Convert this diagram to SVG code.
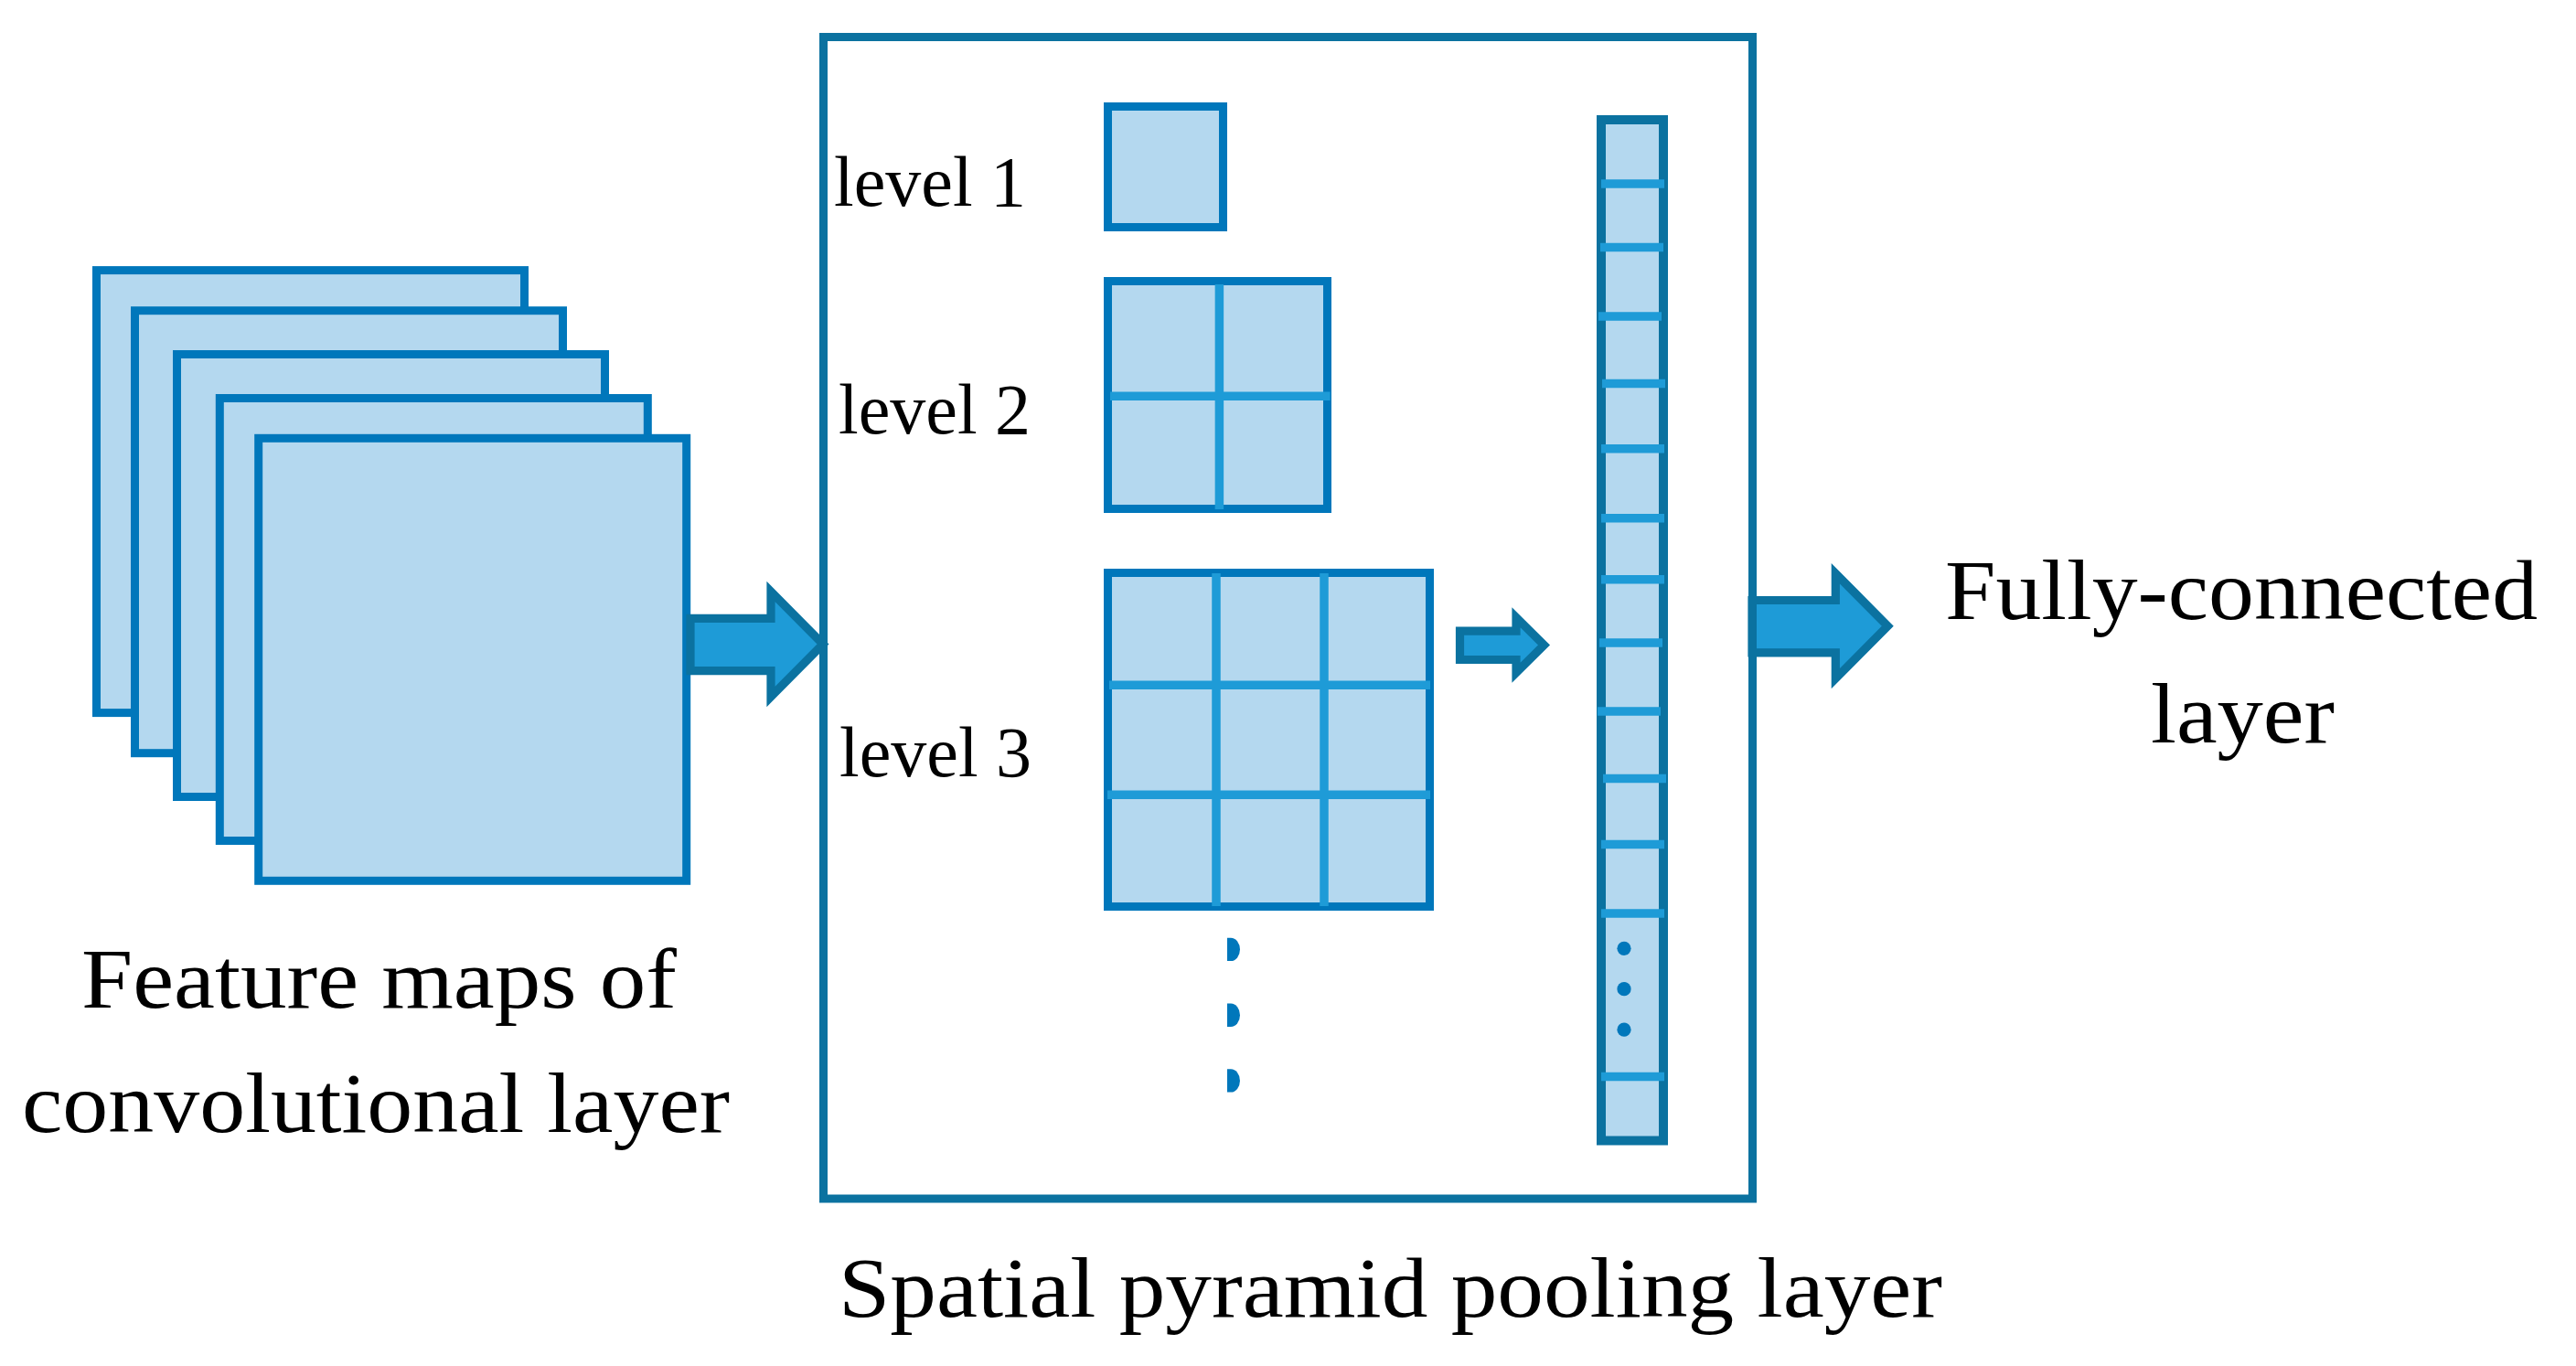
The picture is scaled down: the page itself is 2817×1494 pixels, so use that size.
<svg xmlns="http://www.w3.org/2000/svg" width="2817" height="1494" viewBox="0 0 2817 1494">
<style>
.fm{fill:#B4D8EF;stroke:#0077BB;stroke-width:9}
.cell{fill:#B4D8EF;stroke:#0077BB;stroke-width:9}
.bar{fill:#B4D8EF;stroke:#0B72A0;stroke-width:10}
.grid{stroke:#1E9BD7;stroke-width:9.5;fill:none}
.frame{fill:none;stroke:#0B72A0;stroke-width:9}
.arr{fill:#1E9BD7;stroke:#0B72A0;stroke-width:9.2;stroke-linejoin:miter;stroke-miterlimit:10}
.dot{fill:#0077BB}
.lbl{font-family:"Liberation Serif","Times New Roman",serif;fill:#000}
.big{font-size:94px}
.lvl{font-size:78px}
</style>
<rect width="2817" height="1494" fill="#FFFFFF"/>
<g id="feature-maps">
<rect class="fm" x="105.5" y="295.6" width="468" height="484"/>
<rect class="fm" x="147.5" y="339.7" width="468" height="484"/>
<rect class="fm" x="193.5" y="387.5" width="468" height="484"/>
<rect class="fm" x="240.3" y="435.5" width="468" height="484"/>
<rect class="fm" x="282.7" y="479.3" width="468" height="484"/>
</g>
<g id="connectors">
<polygon id="arrow-in" class="arr" points="755,676.3 843,676.3 843,647 900,704.5 843,762 843,733.7 755,733.7"/>
<polygon id="arrow-mid" class="arr" points="1596.5,690.2 1658,690.2 1658,675.2 1688.5,705.5 1658,735.8 1658,721.5 1596.5,721.5"/>
<polygon id="arrow-out" class="arr" points="1916,656.5 2007.3,656.5 2007.3,627.2 2064.3,684.7 2007.3,742.2 2007.3,713.9 1916,713.9"/>
</g>
<g id="spp-frame">
<rect class="frame" x="900.5" y="40.5" width="1016" height="1270.5"/>
</g>
<g id="level1">
<rect class="cell" x="1211.5" y="116.5" width="126" height="132"/>
</g>
<g id="level2">
<rect class="cell" x="1211.5" y="307.5" width="240" height="249"/>
<line class="grid" x1="1333.4" y1="311" x2="1333.4" y2="557"/>
<line class="grid" x1="1214" y1="433.3" x2="1454.6" y2="433.3"/>
</g>
<g id="level3">
<rect class="cell" x="1211.5" y="626.5" width="352" height="365"/>
<line class="grid" x1="1330" y1="627" x2="1330" y2="991"/>
<line class="grid" x1="1448" y1="627" x2="1448" y2="991"/>
<line class="grid" x1="1213" y1="749.3" x2="1564" y2="749.3"/>
<line class="grid" x1="1211" y1="869.3" x2="1564" y2="869.3"/>
</g>
<g id="level-dots">
<path class="dot" d="M1342,1025.8 L1346,1025.8 A10,12.65 0 0 1 1346,1051.1 L1342,1051.1 Z"/>
<path class="dot" d="M1342,1097.5 L1346,1097.5 A10,12.7 0 0 1 1346,1122.9 L1342,1122.9 Z"/>
<path class="dot" d="M1342,1169.3 L1346,1169.3 A10,12.65 0 0 1 1346,1194.6 L1342,1194.6 Z"/>
</g>
<g id="pooled-vector">
<rect class="bar" x="1751" y="131" width="68" height="1116.5"/>
<g class="grid">
<line x1="1751" y1="201" x2="1820" y2="201"/>
<line x1="1750" y1="270.5" x2="1819" y2="270.5"/>
<line x1="1748" y1="346" x2="1817" y2="346"/>
<line x1="1752" y1="419.5" x2="1821" y2="419.5"/>
<line x1="1751" y1="490.8" x2="1820" y2="490.8"/>
<line x1="1751" y1="566.7" x2="1820" y2="566.7"/>
<line x1="1751" y1="633.7" x2="1820" y2="633.7"/>
<line x1="1749" y1="703" x2="1818" y2="703"/>
<line x1="1747" y1="778" x2="1816" y2="778"/>
<line x1="1753" y1="851.6" x2="1822" y2="851.6"/>
<line x1="1751" y1="923.4" x2="1820" y2="923.4"/>
<line x1="1751" y1="999" x2="1820" y2="999"/>
<line x1="1751" y1="1177.4" x2="1820" y2="1177.4"/>
</g>
<circle class="dot" cx="1776" cy="1037.3" r="7.6"/>
<circle class="dot" cx="1776" cy="1081.7" r="7.6"/>
<circle class="dot" cx="1776" cy="1126.2" r="7.6"/>
</g>
<g id="labels">
<text class="lbl lvl" x="912" y="225">level 1</text>
<text class="lbl lvl" x="917" y="473.5">level 2</text>
<text class="lbl lvl" x="918" y="849.3">level 3</text>
<text class="lbl big" x="89" y="1101.7" textLength="651" lengthAdjust="spacingAndGlyphs">Feature maps of</text>
<text class="lbl big" x="24" y="1238" textLength="774" lengthAdjust="spacingAndGlyphs">convolutional layer</text>
<text class="lbl big" x="917" y="1440" textLength="1207" lengthAdjust="spacingAndGlyphs">Spatial pyramid pooling layer</text>
<text class="lbl big" x="2127" y="676.5" textLength="648" lengthAdjust="spacingAndGlyphs">Fully-connected</text>
<text class="lbl big" x="2352" y="811.7" textLength="201" lengthAdjust="spacingAndGlyphs">layer</text>
</g>
</svg>
